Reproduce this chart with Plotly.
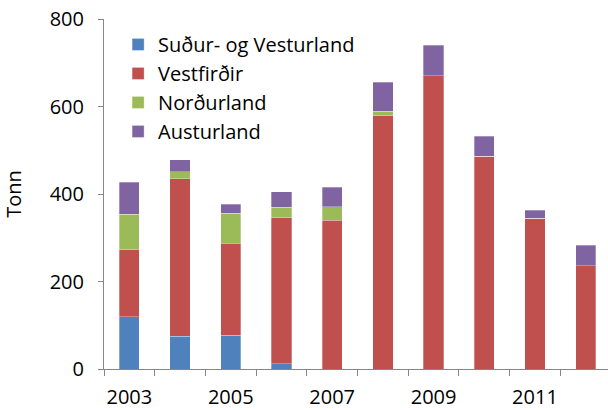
import plotly.graph_objects as go

years = [2003, 2004, 2005, 2006, 2007, 2008, 2009, 2010, 2011, 2012]
sudur = [119, 75, 77, 12, 0, 0, 0, 0, 0, 0]
vestfirdir = [154, 360, 210, 334, 340, 579, 670, 486, 345, 236]
nordurland = [81, 16, 69, 24, 31, 10, 0, 0, 0, 0]
austurland = [73, 27, 21, 35, 44, 66, 70, 46, 18, 47]
label_years = [2003, 2005, 2007, 2009, 2011]

series = [
    ("Suður- og Vesturland", sudur, "#4F81BD"),
    ("Vestfirðir", vestfirdir, "#C0504D"),
    ("Norðurland", nordurland, "#9BBB59"),
    ("Austurland", austurland, "#8064A2"),
]

fig = go.Figure()
for name, vals, col in series:
    fig.add_trace(go.Bar(
        x=years, y=vals, name=name, legendgroup=name,
        marker=dict(color=col, line=dict(color="rgba(255,255,255,0.6)", width=0.5)),
    ))

font = "Open Sans, Liberation Sans, sans-serif"
fig.update_layout(
    barmode="stack",
    bargap=0.6,
    width=608, height=410,
    margin=dict(l=104, r=0, t=19, b=41),
    paper_bgcolor="white", plot_bgcolor="white",
    font=dict(family=font, size=20, color="black"),
    legend=dict(
        x=0.028, y=0.983, xanchor="left", yanchor="top",
        traceorder="normal", tracegroupgap=3,
        font=dict(size=20), bgcolor="rgba(0,0,0,0)",
        itemwidth=30,
    ),
    showlegend=True,
)
fig.update_xaxes(
    range=[2002.5, 2012.44],
    tickvals=label_years,
    ticktext=[str(y) for y in label_years],
    ticks="", ticklen=0, ticklabelstandoff=10,
    showline=True, linecolor="#868686", linewidth=1,
    showgrid=False, zeroline=False, automargin=False,
    ticklabeloverflow="allow",
    tickfont=dict(size=20),
    minor=dict(tickvals=[y + 0.5 for y in [2002] + years], ticks="outside",
               ticklen=6, tickcolor="#868686", showgrid=False),
)
fig.update_yaxes(
    range=[0, 800],
    tickvals=[0, 200, 400, 600, 800],
    ticks="outside", ticklen=5, tickcolor="#868686", ticklabelstandoff=10,
    showline=True, linecolor="#868686", linewidth=1,
    showgrid=False, zeroline=False, automargin=False,
    ticklabeloverflow="allow",
    tickfont=dict(size=20),
    title=dict(text="Tonn", font=dict(size=20), standoff=30),
)

fig.write_html(
    "out.html",
    config={"displayModeBar": False},
    post_script="document.body.style.margin='0';document.body.style.overflow='hidden';",
)
